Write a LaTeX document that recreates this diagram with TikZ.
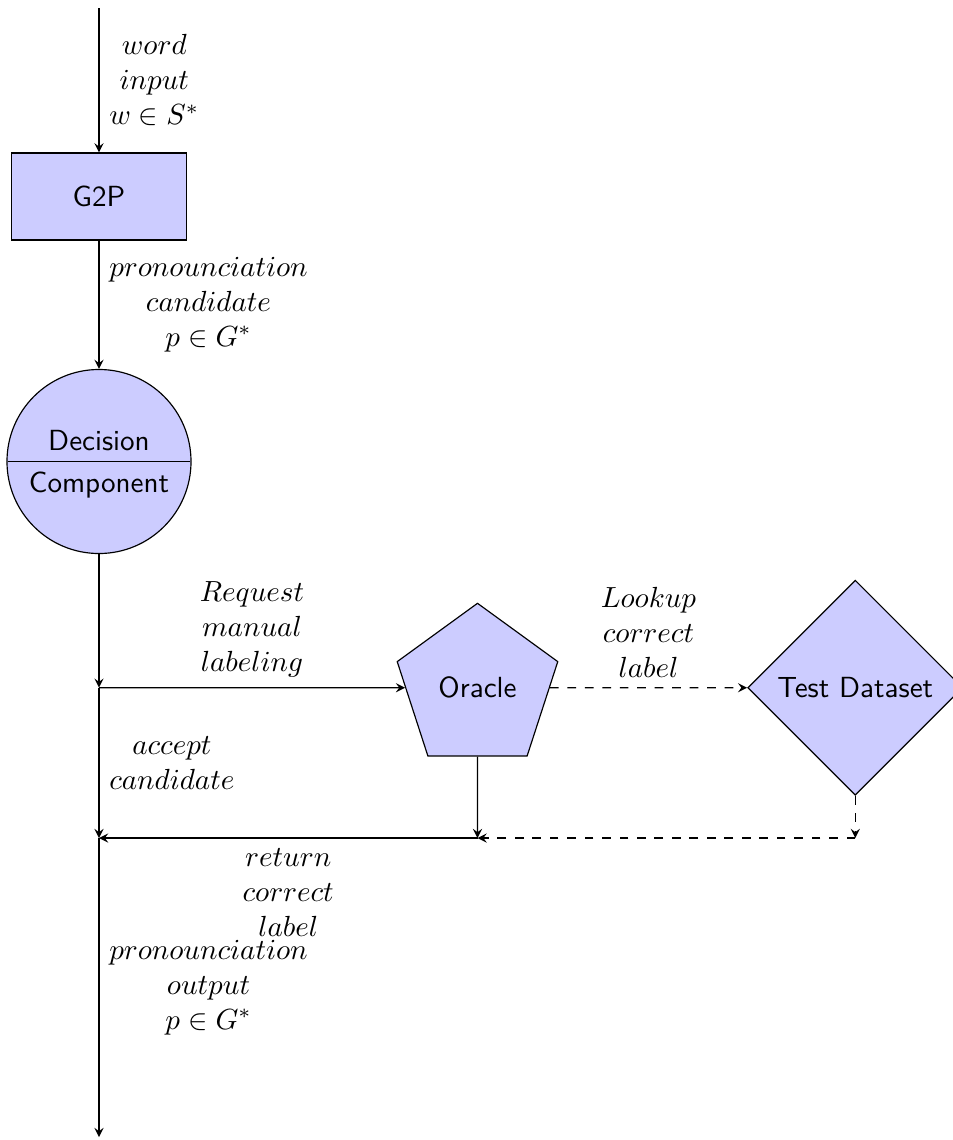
\documentclass[tikz,border=0pt]{standalone}
\usetikzlibrary{shapes.geometric,shapes.multipart,arrows}
\begin{document}
\begin{tikzpicture}[x=0.3436pt,y=-0.3436pt,
  box/.style={draw,fill=blue!20,font=\sffamily},
  conn/.style={-stealth},
  dconn/.style={-stealth,dashed},
  lab/.style={align=center}]
\useasboundingbox (0,0) rectangle (953,1140);
\coordinate (top) at (99,8);
\node[box,rectangle,minimum width=60.1pt,minimum height=29.9pt] (g2p) at (99,196.5) {G2P};
\node[box,circle split,minimum size=62.9pt] (dc) at (99,461.5) {Decision\nodepart{lower}Component};
\coordinate (j1) at (99,687.7);
\coordinate (j2) at (99,838);
\coordinate (bot) at (99,1137);
\node[box,regular polygon,regular polygon sides=5,minimum size=58pt,inner sep=0pt] (oracle) at (477.5,687.7) {Oracle};
\node[box,diamond,aspect=1,minimum width=72.8pt,minimum height=72.8pt] (test) at (855.3,687.7) {Test Dataset};
\coordinate (oj) at (477.5,838);
\coordinate (tj) at (855.3,838);

\draw[conn] (top) -- node[right,lab] {$word$\\$input$\\$w\in S^*$} (g2p.north);
\draw[conn] (g2p.south) -- node[right,lab] {$pronounciation$\\$candidate$\\$p\in G^*$} (dc.north);
\draw[conn] (dc.south) -- (j1);
\draw[conn] (j1) -- node[above,lab] {$Request$\\$manual$\\$labeling$} (oracle);
\draw[dconn] (oracle) -- node[above,lab] {$Lookup$\\$correct$\\$label$} (test);
\draw[dconn] (test.south) -- (tj);
\draw[dconn] (tj) -- (oj);
\draw[conn] (oracle) -- (oj);
\draw[conn] (oj) -- node[below,lab] {$return$\\$correct$\\$label$} (j2);
\draw[conn] (j1) -- node[right,lab] {$accept$\\$candidate$} (j2);
\draw[conn] (j2) -- node[right,lab] {$pronounciation$\\$output$\\$p\in G^*$} (bot);
\end{tikzpicture}
\end{document}
